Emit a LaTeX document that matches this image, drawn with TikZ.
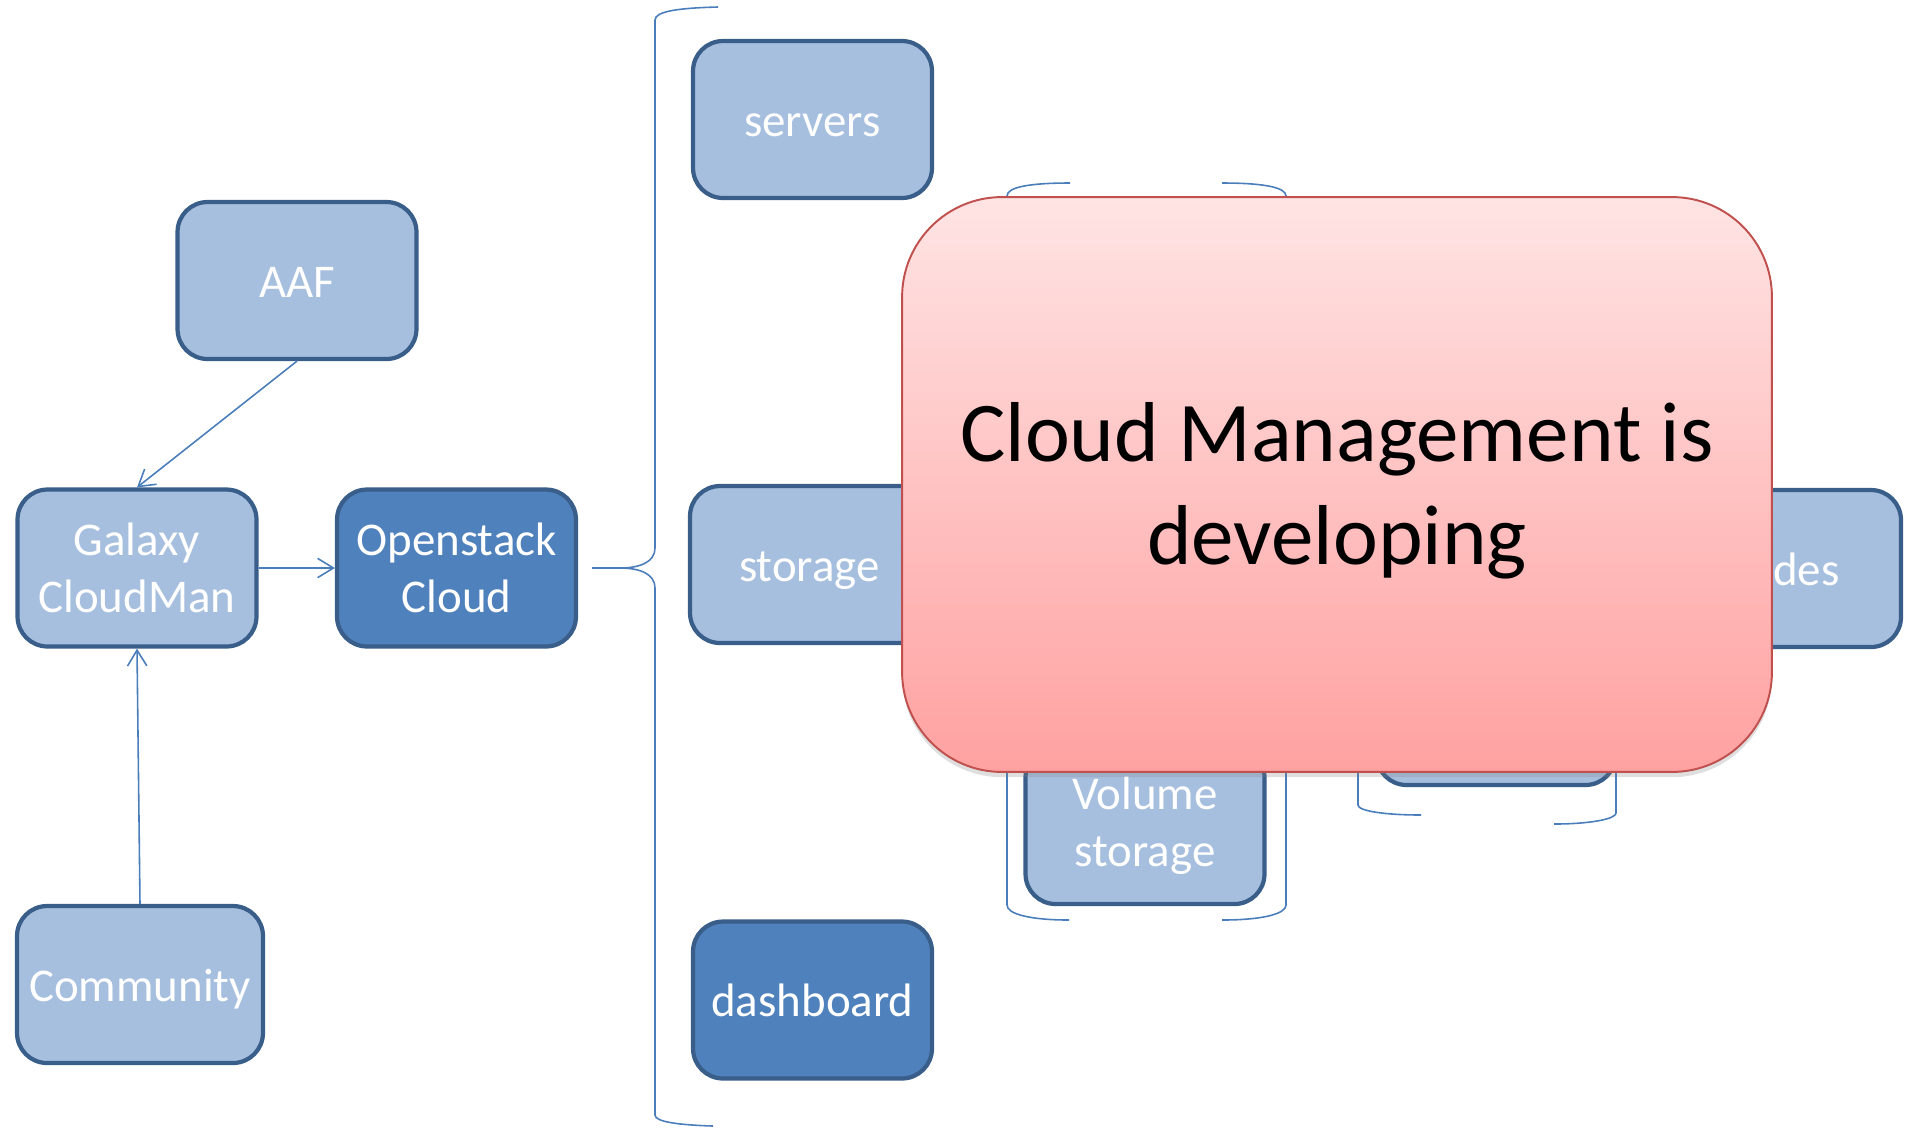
\documentclass[tikz,border=0pt]{standalone}
\usepackage{fontspec}
\setmainfont{Carlito}
\usetikzlibrary{arrows.meta,shadows}
\definecolor{boxlight}{RGB}{167,191,222}
\definecolor{boxdark}{RGB}{79,129,189}
\definecolor{boxline}{RGB}{57,94,138}
\definecolor{linkblue}{RGB}{74,126,187}
\definecolor{noteline}{RGB}{192,80,77}
\definecolor{notetop}{RGB}{255,228,228}
\definecolor{notebottom}{RGB}{255,161,161}
\begin{document}
\begin{tikzpicture}[x=0.02cm,y=-0.02cm,
    box/.style={rectangle, rounded corners=0.6cm, draw=boxline, line width=2.4pt,
      fill=boxlight, text=white, align=center, minimum width=4.78cm, minimum height=3.14cm,
      font=\fontsize{26.7}{32.5}\selectfont},
    darkbox/.style={box, fill=boxdark},
    oneline/.style={text height=23pt, text depth=4pt},
    link/.style={draw=linkblue, line width=0.9pt, -{Straight Barb[length=9pt,width=11pt]}},
    bracket/.style={draw=linkblue, line width=0.9pt}]
\useasboundingbox (0,0) rectangle (1905,1127);
% Boxes on the left
              \node[box, oneline] (aaf) at (297,280.5) {AAF};
              \node[box] (galaxy) at (137,568) {Galaxy\\CloudMan};
              \node[darkbox] (openstack) at (456.5,568) {Openstack\\Cloud};
              \node[box, oneline, minimum width=4.92cm] (community) at (140,984.5) {Community};
% Arrows between the left boxes
              \draw[link] (aaf.south) -- (galaxy.north);
              \draw[link] (galaxy.east) -- (openstack.west);
              \draw[link] (community.north) -- (galaxy.south);
% Brace in front of the parts of the cloud
              \draw[bracket] (718,7) .. controls (680,8) and (655,11) .. (655,20) -- (655,548)
                .. controls (655,562) and (640,568) .. (620,568) -- (592,568);
              \draw[bracket] (592,568) -- (620,568) .. controls (640,568) and (655,574) .. (655,588)
                -- (655,1115) .. controls (655,1122) and (680,1125) .. (713,1126);
% Parts of the cloud
              \node[box, oneline] (servers) at (812.5,119.5) {servers};
              \node[box, oneline] (storage) at (809.5,564.5) {storage};
              \node[darkbox, oneline] (dashboard) at (812.5,1000) {dashboard};
              \node[box] (volume) at (1145,825.5) {Volume\\storage};
              \node[box] (compute) at (1496,706.5) {};
              \node[box, oneline] (nodes) at (1781.5,568.5) {nodes};
% Brackets round the storage and compute groups
              \draw[bracket] (1070,183) .. controls (1030,183) and (1007,187) .. (1007,196)
                -- (1007,905) .. controls (1007,914) and (1030,920) .. (1069,920);
              \draw[bracket] (1222,183) .. controls (1262,183) and (1286,187) .. (1286,196)
                -- (1286,905) .. controls (1286,914) and (1262,920) .. (1222,920);
              \draw[bracket] (1358,700) -- (1358,805) .. controls (1358,811) and (1385,815) .. (1421,815);
              \draw[bracket] (1616,700) -- (1616,813) .. controls (1616,819) and (1590,824) .. (1554,824);
% Note in front of everything
              \node[rectangle, rounded corners=2cm, draw=noteline, line width=1.1pt,
                top color=notetop, bottom color=notebottom, minimum width=17.4cm, minimum height=11.5cm,
                drop shadow={opacity=0.25, shadow xshift=0pt, shadow yshift=-3pt}]
                (note) at (1337,484.5) {};
              \node[align=center, font=\fontsize{48.4}{58.6}\selectfont]
                (notetext) at ([yshift=-3.4pt]note.center) {Cloud Management is\\developing};
        \end{tikzpicture}
\end{document}
